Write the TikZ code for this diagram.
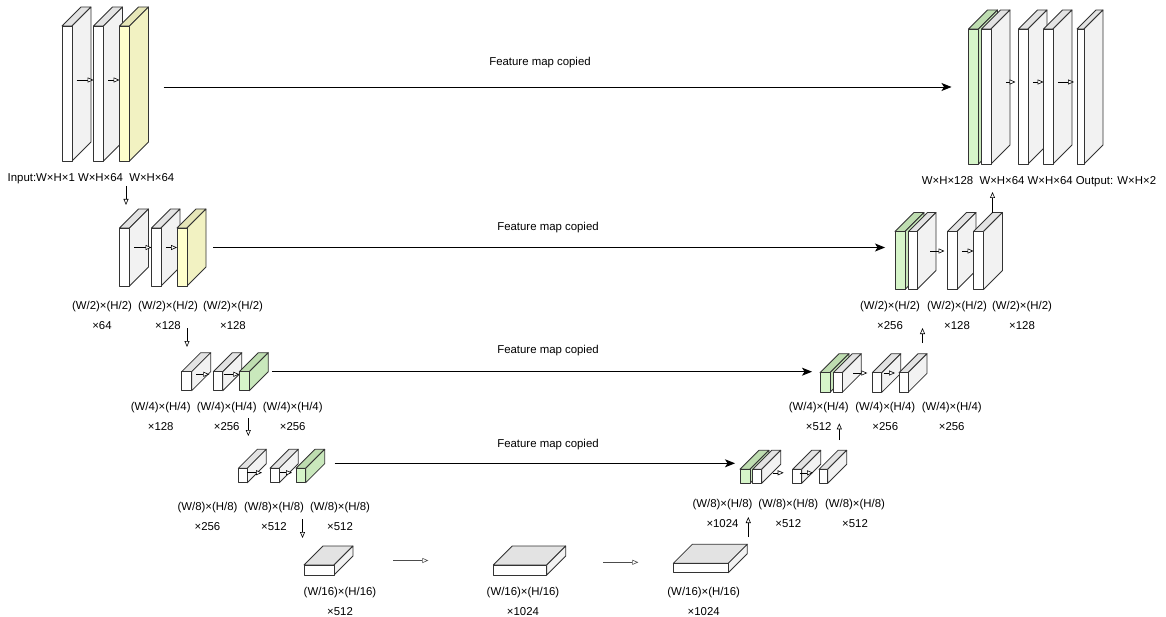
\documentclass[tikz,border=0pt]{standalone}
\usepackage{fontspec}
\setmainfont{Liberation Sans}
\usetikzlibrary{arrows.meta}

\definecolor{edge}{HTML}{333333}
\definecolor{plainfront}{HTML}{FFFFFF}
\definecolor{plainside}{HTML}{F2F2F2}
\definecolor{plaintop}{HTML}{E3E3E3}
\definecolor{yellowfront}{HTML}{FFFFCC}
\definecolor{yellowside}{HTML}{F2F2C2}
\definecolor{yellowtop}{HTML}{E6E6B8}
\definecolor{greenfront}{HTML}{D6F5C9}
\definecolor{greenside}{HTML}{C9E8BC}
\definecolor{greentop}{HTML}{BEDDB0}

\newcommand{\cubedepth}{19}
% name, x, y (front top left), width, height, colour set
\newcommand{\cuboid}[6]{%
  \filldraw[face, fill=#6top] (#2,#3) -- ++(\cubedepth,-\cubedepth) -- ++(#4,0) -- ++(-\cubedepth,\cubedepth) -- cycle;
  \filldraw[face, fill=#6side] (#2+#4,#3) -- ++(\cubedepth,-\cubedepth) -- ++(0,#5) -- ++(-\cubedepth,\cubedepth) -- cycle;
  \node[face, fill=#6front, minimum width=#4pt, minimum height=#5pt, anchor=north west] (#1) at (#2,#3) {};
  \coordinate (#1c) at (#2+#4/2+\cubedepth/2, #3+#5/2-\cubedepth/2);
  \coordinate (#1r) at (#2+#4+\cubedepth, #3+#5/2-\cubedepth/2);
}

\tikzset{
  face/.style={draw=edge, line width=0.8pt, line join=round, inner sep=0pt, outer sep=0pt},
  inarrow/.style={draw=black, line width=0.6pt, -{Triangle[length=6pt, width=5pt, fill=white]}},
  copyarrow/.style={draw=black, line width=0.9pt, -{Stealth[length=10pt, width=8pt, inset=2.5pt]}},
  txt/.style={font=\fontsize{11.4}{20}\selectfont, align=center, inner sep=0pt},
}

\begin{document}
\begin{tikzpicture}[x=1pt, y=-1pt]
\useasboundingbox[fill=white] (0,0) rectangle (1166,617);

% level 1
\cuboid{A1}{62}{26}{10}{135}{plain}
\cuboid{A2}{93.5}{26}{10}{135}{plain}
\cuboid{A3}{119.5}{26}{10}{135}{yellow}
\cuboid{B1}{968.5}{29}{10}{135}{green}
\cuboid{B2}{981.5}{29}{9.5}{135}{plain}
\cuboid{B3}{1018.5}{29}{9.5}{135}{plain}
\cuboid{B4}{1043.5}{29}{9.5}{135}{plain}
\cuboid{B5}{1077}{29}{7}{135}{plain}

% level 2
\cuboid{C1}{119.5}{228}{10}{58}{plain}
\cuboid{C2}{151.5}{228}{9.5}{58}{plain}
\cuboid{C3}{177}{228}{10}{58}{yellow}
\cuboid{D1}{895}{231.5}{10}{58}{green}
\cuboid{D2}{908.5}{231.5}{8.5}{58}{plain}
\cuboid{D3}{947.5}{231.5}{9.5}{58}{plain}
\cuboid{D4}{973.5}{231.5}{10}{58}{plain}

% level 3
\cuboid{E1}{181.7}{371.7}{10}{19}{plain}
\cuboid{E2}{213.3}{371.7}{9.5}{19}{plain}
\cuboid{E3}{239.3}{371.7}{10}{19}{green}
\cuboid{F1}{820}{372.7}{10}{19.6}{green}
\cuboid{F2}{833.3}{372.7}{9}{19.6}{plain}
\cuboid{F3}{872.3}{372.7}{9.5}{19.6}{plain}
\cuboid{F4}{899}{372.7}{9}{19.6}{plain}

% level 4
\cuboid{G1}{238.3}{468.3}{9}{14.4}{plain}
\cuboid{G2}{270}{468.3}{9.3}{14.4}{plain}
\cuboid{G3}{296}{468.3}{9.7}{14.4}{green}
\cuboid{H1}{740}{469.3}{10}{14}{green}
\cuboid{H2}{752.7}{469.3}{9}{14}{plain}
\cuboid{H3}{792.7}{469.3}{9}{14}{plain}
\cuboid{H4}{819}{469.3}{8.7}{14}{plain}

% bottom
\cuboid{K1}{304}{565}{30}{10}{plain}
\cuboid{K2}{493.3}{565}{53.4}{10}{plain}
\cuboid{K3}{673.3}{563.3}{55}{9.4}{plain}

% steps inside a level
\draw[inarrow] ([yshift=4pt]A1c) -- ([yshift=4pt]A1c -| A2.west);
\draw[inarrow] ([yshift=4pt]A2c) -- ([yshift=4pt]A2c -| A3.west);
\draw[inarrow] ([shift={(10pt,5pt)}]B2c) -- ([shift={(-3pt,5pt)}]B2c -| B3.west);
\draw[inarrow] ([yshift=5pt]B3c) -- ([yshift=5pt]B3c -| B4.west);
\draw[inarrow] ([yshift=5pt]B4c) -- ([shift={(-3pt,5pt)}]B4c -| B5.west);
\draw[inarrow] (C1c) -- (C1c -| C2.west);
\draw[inarrow] (C2c) -- (C2c -| C3.west);
\draw[inarrow] ([xshift=8pt]D2c) -- ([xshift=-3pt]D2c -| D3.west);
\draw[inarrow] (D3c) -- (D3c -| D4.west);
\draw[inarrow] ([yshift=-2.6pt]E1c) -- ([shift={(-4pt,-2.6pt)}]E1c -| E2.west);
\draw[inarrow] ([shift={(-4pt,-2.6pt)}]E2c) -- ([yshift=-2.6pt]E2c -| E3.west);
\draw[inarrow] ([xshift=6pt]F2c) -- ([xshift=-5pt]F2c -| F3.west);
\draw[inarrow] ([xshift=-3pt]F3c) -- ([xshift=-4pt]F3c -| F4.west);
\draw[inarrow] ([shift={(-5pt,-6.7pt)}]G1c) -- ([shift={(-8pt,-6.7pt)}]G1c -| G2.west);
\draw[inarrow] ([shift={(-4pt,-6.7pt)}]G2c) -- ([shift={(-4pt,-6.7pt)}]G2c -| G3.west);
\draw[inarrow] ([shift={(6pt,-6pt)}]H2c) -- ([shift={(-9pt,-6pt)}]H2c -| H3.west);
\draw[inarrow] ([shift={(-7pt,-6pt)}]H3c) -- ([shift={(-6pt,-6pt)}]H3c -| H4.west);
\draw[inarrow, draw=black!70] ([xshift=40pt]K1r) -- ([xshift=-65pt]K1r -| K2.west);
\draw[inarrow, draw=black!70] ([shift={(37.5pt,-1.8pt)}]K2r) -- ([shift={(-35pt,-1.8pt)}]K2r -| K3.west);

% copied feature maps
\draw[copyarrow] ([shift={(15pt,-3pt)}]A3r) -- ([shift={(-17pt,-3pt)}]A3r -| B1.west);
\draw[copyarrow] ([xshift=7pt]C3r) -- ([xshift=-10pt]C3r -| D1.west);
\draw[copyarrow] ([xshift=3.5pt]E3r) -- ([xshift=-8pt]E3r -| F1.west);
\draw[copyarrow] ([shift={(10pt,2.7pt)}]G3r) -- ([shift={(-5pt,2.7pt)}]G3r -| H1.west);
\node[txt] (cp1) at (540,63) {Feature map copied};
\node[txt] (cp2) at (548,228) {Feature map copied};
\node[txt] (cp3) at (548,351) {Feature map copied};
\node[txt] (cp4) at (548,445) {Feature map copied};

% down and up between levels
\coordinate (d1s) at (126,186);   \coordinate (d1e) at (126,205);
\coordinate (d2s) at (187,328);   \coordinate (d2e) at (187,347);
\coordinate (d3s) at (248.3,418); \coordinate (d3e) at (248.3,436);
\coordinate (d4s) at (302.5,519); \coordinate (d4e) at (302.5,538);
\coordinate (u1s) at (748.3,537); \coordinate (u1e) at (748.3,517);
\coordinate (u2s) at (839.3,440); \coordinate (u2e) at (839.3,423.3);
\coordinate (u3s) at (922.5,343); \coordinate (u3e) at (922.5,328);
\coordinate (u4s) at (992.5,213); \coordinate (u4e) at (992.5,192);
\draw[inarrow] (d1s) -- (d1e);
\draw[inarrow] (d2s) -- (d2e);
\draw[inarrow] (d3s) -- (d3e);
\draw[inarrow] (d4s) -- (d4e);
\draw[inarrow] (u1s) -- (u1e);
\draw[inarrow] (u2s) -- (u2e);
\draw[inarrow] (u3s) -- (u3e);
\draw[inarrow] (u4s) -- (u4e);

% sizes
\node[txt] (inlbl) at (91,179) {Input:W×H×1 W×H×64\ \ W×H×64};
\node[txt] (outlbl) at (1039,181.7) {W×H×128\ \ W×H×64 W×H×64 Output: W×H×2};

\node[txt] (c2a) at (102,315) {(W/2)×(H/2)\\×64};
\node[txt] (c2b) at (168,315) {(W/2)×(H/2)\\×128};
\node[txt] (c2c) at (233,315) {(W/2)×(H/2)\\×128};
\node[txt] (d2a) at (890,315) {(W/2)×(H/2)\\×256};
\node[txt] (d2b) at (957,315) {(W/2)×(H/2)\\×128};
\node[txt] (d2c) at (1022,315) {(W/2)×(H/2)\\×128};

\node[txt] (c3a) at (160.7,416) {(W/4)×(H/4)\\×128};
\node[txt] (c3b) at (226.7,416) {(W/4)×(H/4)\\×256};
\node[txt] (c3c) at (292.7,416) {(W/4)×(H/4)\\×256};
\node[txt] (d3a) at (818.7,416) {(W/4)×(H/4)\\×512};
\node[txt] (d3b) at (885.3,416) {(W/4)×(H/4)\\×256};
\node[txt] (d3c) at (951.7,416) {(W/4)×(H/4)\\×256};

\node[txt] (c4a) at (207.5,516) {(W/8)×(H/8)\\×256};
\node[txt] (c4b) at (274,516) {(W/8)×(H/8)\\×512};
\node[txt] (c4c) at (340,516) {(W/8)×(H/8)\\×512};
\node[txt] (d4a) at (722.5,513.5) {(W/8)×(H/8)\\×1024};
\node[txt] (d4b) at (788.3,513.5) {(W/8)×(H/8)\\×512};
\node[txt] (d4c) at (855,513.5) {(W/8)×(H/8)\\×512};

\node[txt] (b5a) at (340,601.7) {(W/16)×(H/16)\\×512};
\node[txt] (b5b) at (523,601.7) {(W/16)×(H/16)\\×1024};
\node[txt] (b5c) at (703.7,601.7) {(W/16)×(H/16)\\×1024};
\end{tikzpicture}
\end{document}
